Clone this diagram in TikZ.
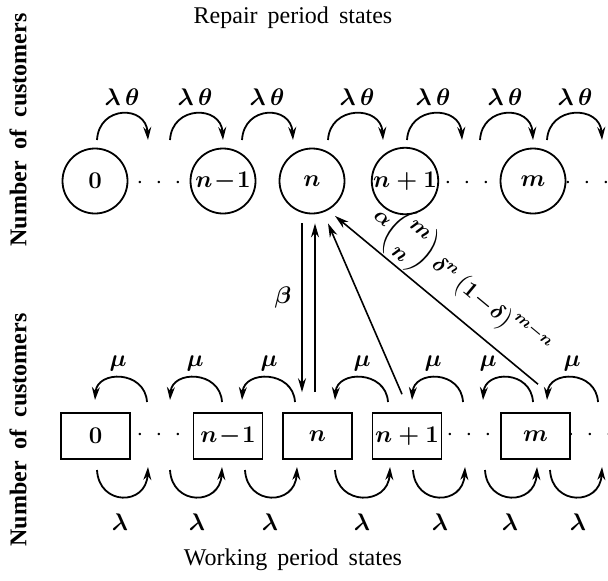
\documentclass[tikz,border=0pt]{standalone}
\usepackage{amsmath}
\usepackage{fontspec}
\setmainfont{Liberation Serif}
\usetikzlibrary{arrows.meta,calc}
\tikzset{
  txt/.style={font=\fontsize{12}{14}\selectfont, inner sep=0pt},
  mtxt/.style={font=\fontsize{12}{14}\selectfont\boldmath, inner sep=0pt},
  st/.style={circle, draw, line width=0.9pt, minimum size=32.5pt, inner sep=0pt, font=\fontsize{12}{14}\selectfont\boldmath},
  bx/.style={rectangle, draw, line width=0.8pt, minimum width=34.5pt, minimum height=23pt, inner sep=0pt, font=\fontsize{12}{14}\selectfont\boldmath},
  loopline/.style={line width=0.9pt, -{Stealth[length=6.5pt,width=4pt]}},
  trans/.style={line width=0.8pt, -{Stealth[length=7pt,width=4pt]}},
  ylab/.style={rotate=90, font=\fontsize{12}{14}\selectfont\bfseries, inner sep=0pt},
  dotsn/.style={font=\fontsize{12}{14}\selectfont, inner sep=0pt}
}
\newcommand{\mydots}{$\cdot\hspace{3.5pt}\cdot\hspace{3.5pt}\cdot$}
\begin{document}
\begin{tikzpicture}[x=0.5pt,y=-0.5pt]
\useasboundingbox (0,0) rectangle (608,580);

% titles
\node[txt] (ttop) at (293,18) {Repair\hspace{5pt}period\hspace{5pt}states};
\node[txt] (tbot) at (293,560) {Working\hspace{5pt}period\hspace{5pt}states};
\node[ylab] (yl1) at (18,130) {Number\hspace{6pt}of\hspace{6pt}customers};
\node[ylab] (yl2) at (18,430) {Number\hspace{6pt}of\hspace{6pt}customers};

% repair states (circles)
\node[st] (r0) at (95,181) {$0$};
\node[st] (r1) at (223,181) {$n\!-\!1$};
\node[st] (r2) at (312,181) {$n$};
\node[st] (r3) at (405,181) {$n+1$};
\node[st] (r4) at (533,181) {$m$};
\node[dotsn] (rd1) at (159,183) {\mydots};
\node[dotsn] (rd2) at (467,183) {\mydots};
\node[dotsn] (rd3) at (587,183) {\mydots};

% working states (boxes)
\node[bx] (w0) at (95.5,436) {$0$};
\node[bx] (w1) at (228,436) {$n\!-\!1$};
\node[bx] (w2) at (317.5,436) {$n$};
\node[bx] (w3) at (407,436) {$n+1$};
\node[bx] (w4) at (535.5,436) {$m$};
\node[dotsn] (wd1) at (159,435) {\mydots};
\node[dotsn] (wd2) at (469,435) {\mydots};
\node[dotsn] (wd3) at (590,435) {\mydots};

% lambda theta arcs (top)
\foreach \a/\b/\l [count=\i] in {97/148/122,170/223/195,242/293/267,328/383/357,407/462/433,480/533/505,547/602/575}{
  \draw[loopline] (\a,140) .. controls (\a+2,105) and (\b-2,105) .. (\b,140);
  \node[mtxt] (lt\i) at (\l,97) {$\lambda\,\theta$};
}
% mu arcs (above boxes)
\foreach \a/\b/\l [count=\i] in {95/147/118,170/222/195,242/295/269,335/388/362,412/463/433,483/533/488,547/598/572}{
  \draw[loopline] (\b,402) .. controls (\b-2,370) and (\a+2,370) .. (\a,400);
  \node[mtxt] (mu\i) at (\l,363) {$\mu$};
}
% lambda arcs (below boxes)
\foreach \a/\b/\l [count=\i] in {97/148/120,170/222/197,245/297/270,335/390/362,413/465/440,485/537/510,550/602/578}{
  \draw[loopline] (\a,470) .. controls (\a+2,506) and (\b-2,506) .. (\b,467);
  \node[mtxt] (la\i) at (\l,522) {$\lambda$};
}

% transitions between levels
\draw[trans] ([xshift=-5pt,yshift=-4.5pt]r2.south) -- ([xshift=-7.75pt,yshift=10pt]w2.north);
\draw[trans] ([xshift=-1.25pt,yshift=10pt]w2.north) -- ([xshift=1.5pt,yshift=-4.5pt]r2.south);
\node[mtxt] (beta) at (283,297) {$\beta$};
\draw[trans] ([xshift=-2.5pt,yshift=9pt]w3.north) -- ([xshift=8pt,yshift=-4.5pt]r2.south);
\draw[trans] ([xshift=1.25pt,yshift=14pt]w4.north) -- node[pos=0.47, sloped, above=0.5pt, mtxt, font=\fontsize{11}{13}\selectfont\boldmath] (alab)
  {$\alpha\dbinom{m}{n}\,\delta^{n}\,\bigl(1\!-\!\delta\bigr)^{m-n}$} ([xshift=11.5pt,yshift=-0.75pt]r2.south);
\end{tikzpicture}
\end{document}
